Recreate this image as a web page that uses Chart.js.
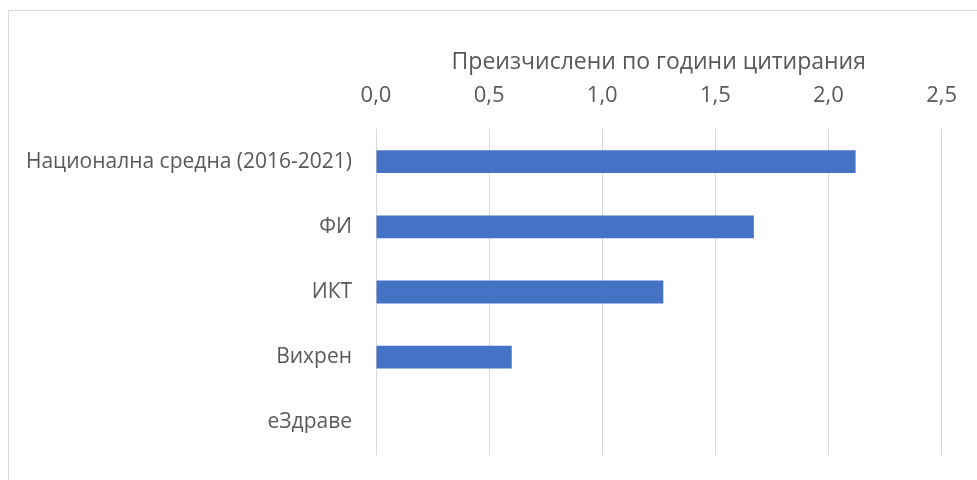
<!DOCTYPE html>
<html>
<head>
<meta charset="utf-8">
<script src="https://cdn.jsdelivr.net/npm/chart.js@4/dist/chart.umd.min.js"></script>
<style>
  html, body { margin: 0; padding: 0; background: #fff; }
  #wrap { position: relative; width: 977px; height: 480px; }
  #frame {
    position: absolute; left: 8px; top: 10px; right: -2px; bottom: -2px;
    border-left: 1px solid #d9d9d9; border-top: 1px solid #d9d9d9;
  }
  #chart { position: absolute; left: 0; top: 0; }
</style>
</head>
<body>
<div id="wrap">
  <div id="frame"></div>
  <canvas id="chart" width="977" height="480"></canvas>
</div>
<script>
// data
const categories = ["Национална средна (2016-2021)", "ФИ", "ИКТ", "Вихрен", "еЗдраве"];
const values = [2.12, 1.67, 1.27, 0.60, 0];
const xTicks = [0, 0.5, 1, 1.5, 2, 2.5];
const axisTitle = "Преизчислени по години цитирания";

const FONT = "'Open Sans', 'Noto Sans', sans-serif";
const TEXT = "#595959";

const ctx = document.getElementById("chart").getContext("2d");
new Chart(ctx, {
  type: "bar",
  data: {
    labels: categories,
    datasets: [{
      data: values,
      backgroundColor: "#4472c4",
      barPercentage: 0.35,
      categoryPercentage: 1
    }]
  },
  options: {
    indexAxis: "y",
    responsive: false,
    animation: false,
    layout: { padding: { left: 0, right: 34, top: 0, bottom: 25 } },
    plugins: {
      legend: { display: false },
      tooltip: { enabled: false }
    },
    scales: {
      x: {
        position: "top",
        min: 0,
        max: 2.5,
        afterBuildTicks: function (scale) {
          scale.ticks = xTicks.map(v => ({ value: v }));
        },
        afterFit: function (scale) { scale.height = 129; },
        grid: { color: "#d9d9d9", lineWidth: 1, drawTicks: false },
        border: { display: false },
        ticks: {
          color: TEXT,
          font: { family: FONT, size: 22 },
          padding: 20,
          maxRotation: 0,
          callback: v => v.toFixed(1).replace(".", ",")
        },
        title: {
          display: true,
          text: axisTitle,
          color: TEXT,
          font: { family: FONT, size: 23 },
          padding: { top: 49, bottom: 0 }
        }
      },
      y: {
        afterFit: function (scale) {
          scale.width = 376;
          // label overhang would otherwise lift the plot bottom
          scale.paddingTop = 0;
          scale.paddingBottom = 0;
        },
        grid: { display: false },
        border: { display: false },
        ticks: {
          color: TEXT,
          font: { family: FONT, size: 21 },
          padding: 16
        }
      }
    }
  }
});
</script>
</body>
</html>
